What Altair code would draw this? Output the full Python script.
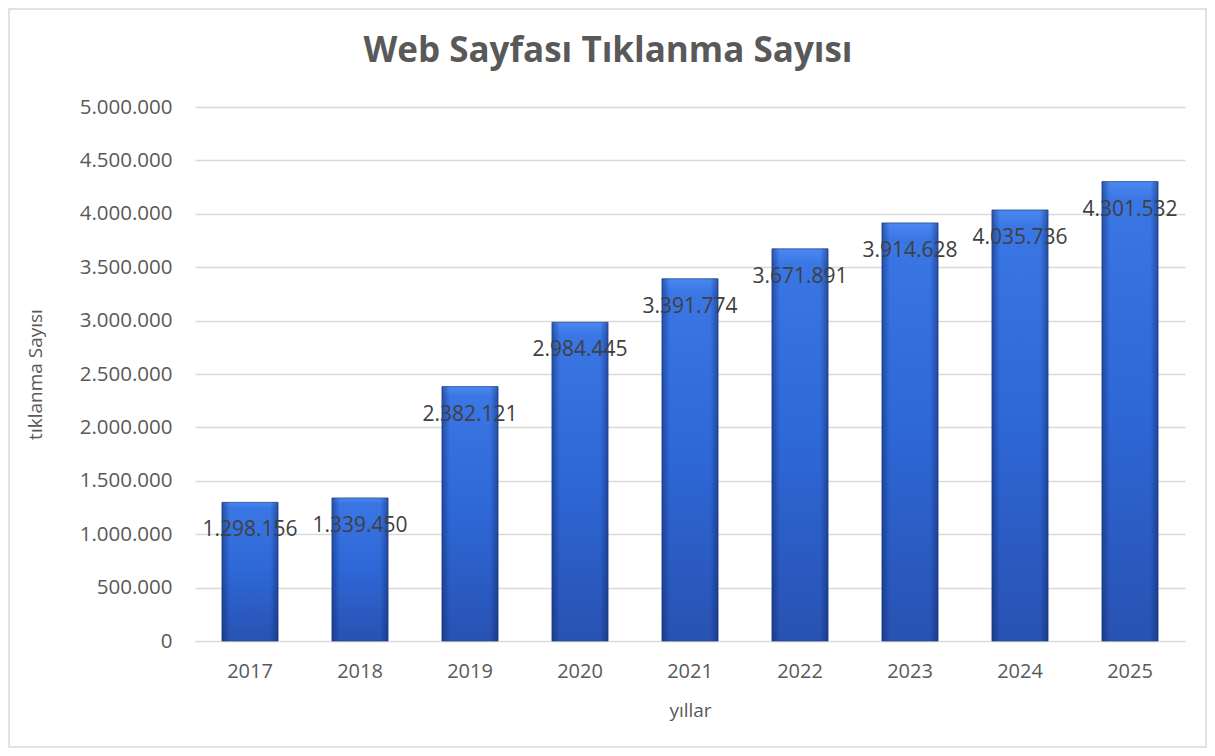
import altair as alt
import pandas as pd

years = ["2017", "2018", "2019", "2020", "2021", "2022", "2023", "2024", "2025"]
clicks = [1298156, 1339450, 2382121, 2984445, 3391774, 3671891, 3914628, 4035736, 4301532]

df = pd.DataFrame({"yil": years, "tik": clicks})

FONT = "Open Sans"
GRAY = "#595959"

xenc = alt.X(
    "yil:N",
    sort=years,
    title="yıllar",
    scale=alt.Scale(paddingInner=0.49, paddingOuter=0.245),
    axis=alt.Axis(
        labelAngle=0, labelFontSize=20, labelColor=GRAY, labelFont=FONT,
        labelPadding=20, ticks=False, domain=True, domainColor="#d9d9d9",
        titleFontSize=19, titleColor=GRAY, titleFont=FONT, titleFontWeight="normal",
        titlePadding=20,
    ),
)
yenc = alt.Y(
    "tik:Q",
    title="tıklanma Sayısı",
    scale=alt.Scale(domain=[0, 5000000], nice=False),
    axis=alt.Axis(
        values=list(range(0, 5000001, 500000)), format=",d",
        labelFontSize=20.5, labelColor=GRAY, labelFont=FONT, labelPadding=23,
        ticks=False, domain=False, gridColor="#d9d9d9", gridWidth=1.3,
        titleFontSize=19, titleColor=GRAY, titleFont=FONT, titleFontWeight="normal",
        titlePadding=34,
    ),
)

grad_v = alt.Gradient(
    gradient="linear", x1=0, x2=0, y1=0, y2=1,
    stops=[
        alt.GradientStop(offset=0, color="#4a88f0"),
        alt.GradientStop(offset=0.04, color="#3a76e4"),
        alt.GradientStop(offset=0.5, color="#2e67d6"),
        alt.GradientStop(offset=1, color="#2852b2"),
    ],
)
grad_h = alt.Gradient(
    gradient="linear", x1=0, x2=1, y1=0, y2=0,
    stops=[
        alt.GradientStop(offset=0, color="rgba(10,30,90,0.45)"),
        alt.GradientStop(offset=0.14, color="rgba(10,30,90,0.0)"),
        alt.GradientStop(offset=0.86, color="rgba(10,30,90,0.0)"),
        alt.GradientStop(offset=1, color="rgba(10,30,90,0.45)"),
    ],
)

base = alt.Chart(df)
bars = base.mark_bar(fill=grad_v, stroke="#2a4c96", strokeWidth=0.8).encode(x=xenc, y=yenc)
bevel = base.mark_bar(fill=grad_h).encode(x=alt.X("yil:N", sort=years), y="tik:Q")
labels = base.mark_text(
    fontSize=21, font=FONT, color="#404040", baseline="middle", dy=28
).encode(x=alt.X("yil:N", sort=years), y="tik:Q", text=alt.Text("tik:Q", format=",d"))

border = alt.Chart(pd.DataFrame({"a": [0]})).mark_rect(
    fill=None, stroke="#d9d9d9", strokeWidth=1.5
).encode(
    x=alt.value(-186), x2=alt.value(1011), y=alt.value(-98), y2=alt.value(640)
)

chart = alt.layer(border, bars, bevel, labels).properties(
    width=990,
    height=534,
    title=alt.TitleParams(
        "Web Sayfası Tıklanma Sayısı", fontSize=35, font=FONT, fontWeight="bold",
        color=GRAY, anchor="middle", dx=-82, offset=-61,
    ),
    autosize=alt.AutoSizeParams(type="none"),
    padding={"left": 187, "top": 99, "right": 22, "bottom": 107},
).configure(
    view=alt.ViewConfig(stroke=None),
    locale={"number": {"decimal": ",", "thousands": ".", "grouping": [3], "currency": ["", " ₺"]}},
)

chart.save("out.html", embed_options={"renderer": "svg", "actions": False})
